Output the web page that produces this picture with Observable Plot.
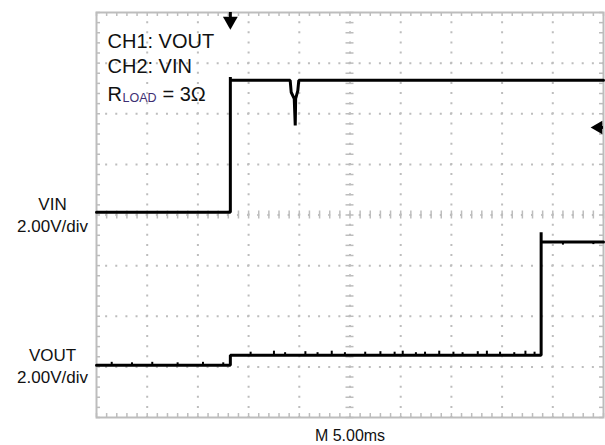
<!DOCTYPE html>
<html><head><meta charset="utf-8">
<script src="https://cdn.jsdelivr.net/npm/d3@7"></script>
<script src="https://cdn.jsdelivr.net/npm/@observablehq/plot@0.6"></script>
<style>body{margin:0;background:#fff;} #chart{width:605px;height:445px;}</style>
</head><body><div id="chart"></div>
<script>
// Channels: name, ground offset (screen divisions), volts per division
const channelNames = ["VIN", "VOUT"];
const channelOffsetDiv = [0, -3];
const channelVoltsPerDiv = [2, 2];
const msPerDiv = 5;
const divisionsX = 10;
const divisionsY = 8;

// VIN (CH2) trace
const vinTime = [0, 13.2, 13.2, 13.2, 19.1, 19.2, 19.5, 19.6, 19.64, 19.85, 19.95, 50];
const vinVolts = [0.11, 0.11, 5.45, 5.32, 5.32, 4.85, 4.6, 3.54, 4.6, 4.9, 5.32, 5.32];

// VOUT (CH1) trace
const voutTime = [0, 13.2, 13.2, 43.85, 43.85, 43.85, 50];
const voutVolts = [0.06, 0.06, 0.46, 0.46, 5.32, 4.93, 4.93];

// small noise spikes on VOUT
const voutNoiseTime = [1.5, 3.5, 5.5, 8, 10.5, 12.5, 15.2, 17.5, 18.6, 20.6, 21.8, 23.2, 24.5, 26.5, 28, 29.4, 30.2, 31.5, 32.4, 33.8, 35.2, 36.1, 37.6, 38.5, 39.8, 41.2, 42.3, 43.2, 46, 49];
const voutNoiseBase = [0.06, 0.06, 0.06, 0.06, 0.06, 0.06, 0.46, 0.46, 0.46, 0.46, 0.46, 0.46, 0.46, 0.46, 0.46, 0.46, 0.46, 0.46, 0.46, 0.46, 0.46, 0.46, 0.46, 0.46, 0.46, 0.46, 0.46, 0.46, 4.93, 4.93];
const voutNoiseVolts = [0.12, 0.1, 0.12, 0.1, 0.12, 0.1, 0.12, 0.16, 0.1, 0.14, 0.1, 0.16, 0.1, 0.12, 0.14, 0.12, 0.16, 0.1, 0.12, 0.16, 0.12, 0.1, 0.14, 0.16, 0.12, 0.1, 0.16, 0.12, -0.12, -0.1];

// markers
const triggerTimeMs = [13.2];
const triggerLevelDiv = [1.73];

// texts
const infoLines = ["CH1: VOUT", "CH2: VIN"];
const loadParts = ["R", "LOAD", "= 3Ω"];
const scaleLabel = "2.00V/div";
const timebaseLabel = "M 5.00ms";

const W = 605, H = 445, mL = 96, mR = 2, mT = 12, mB = 28;
const xMax = msPerDiv * divisionsX;
const pxPerMinorX = (W - mL - mR) / (divisionsX * 5);
const pxPerMinorY = (H - mT - mB) / (divisionsY * 5);
const gridColor = "#bdbdbd";
const font = "Liberation Sans, Arial, sans-serif";

const toDiv = (ch, v) => channelOffsetDiv[ch] + v / channelVoltsPerDiv[ch];
const vin = vinTime.map((t, i) => ({t, y: toDiv(0, vinVolts[i])}));
const vout = voutTime.map((t, i) => ({t, y: toDiv(1, voutVolts[i])}));
const noise = voutNoiseTime.map((t, i) => ({t, y1: toDiv(1, voutNoiseBase[i]), y2: toDiv(1, voutNoiseBase[i] + voutNoiseVolts[i])}));

const majorX = d3.range(1, divisionsX).map(d => d * msPerDiv);
const majorY = d3.range(-divisionsY / 2 + 1, divisionsY / 2);
const minorX = d3.range(0, divisionsX * 5 + 1).map(d => d * msPerDiv / 5);
const minorY = d3.range(0, divisionsY * 5 + 1).map(d => -divisionsY / 2 + d / 5);
const tickLenX = 4 / pxPerMinorX * (msPerDiv / 5);   // 4 px in ms
const tickLenY = 4 / pxPerMinorY / 5;                // 4 px in div
const midX = xMax / 2;
const textStyle = {frameAnchor: "top-left", textAnchor: "start", lineAnchor: "bottom", fill: "#111"};

const chart = Plot.plot({
  width: W, height: H,
  marginLeft: mL, marginRight: mR, marginTop: mT, marginBottom: mB,
  style: {fontFamily: font, background: "#fff"},
  x: {domain: [0, xMax], axis: null},
  y: {domain: [-divisionsY / 2, divisionsY / 2]},
  marks: [
    Plot.gridX(majorX, {stroke: gridColor, strokeOpacity: 1, strokeWidth: 2, strokeDasharray: `2,${pxPerMinorY - 2}`, strokeDashoffset: 1}),
    Plot.gridY(majorY, {stroke: gridColor, strokeOpacity: 1, strokeWidth: 2, strokeDasharray: `2,${pxPerMinorX - 2}`, strokeDashoffset: 1}),
    // center-line ticks
    Plot.ruleX(minorX, {y1: -tickLenY, y2: tickLenY, stroke: gridColor, strokeWidth: 1.5}),
    Plot.ruleY(minorY, {x1: midX - tickLenX, x2: midX + tickLenX, stroke: gridColor, strokeWidth: 1.5}),
    // edge ticks
    Plot.ruleX(minorX, {y1: -divisionsY / 2, y2: -divisionsY / 2 + tickLenY, stroke: gridColor, strokeWidth: 1.5}),
    Plot.ruleX(minorX, {y1: divisionsY / 2, y2: divisionsY / 2 - tickLenY, stroke: gridColor, strokeWidth: 1.5}),
    Plot.ruleY(minorY, {x1: 0, x2: tickLenX, stroke: gridColor, strokeWidth: 1.5}),
    Plot.ruleY(minorY, {x1: xMax, x2: xMax - tickLenX, stroke: gridColor, strokeWidth: 1.5}),
    Plot.frame({stroke: gridColor, strokeWidth: 2}),
    // traces
    Plot.line(vin, {x: "t", y: "y", stroke: "#000", strokeWidth: 3, strokeLinejoin: "miter"}),
    Plot.line(vout, {x: "t", y: "y", stroke: "#000", strokeWidth: 3, strokeLinejoin: "miter"}),
    Plot.ruleX(noise, {x: "t", y1: "y1", y2: "y2", stroke: "#000", strokeWidth: 2}),
    // trigger position marker (top)
    Plot.ruleX(triggerTimeMs, {y1: divisionsY / 2, y2: divisionsY / 2 - 0.14, stroke: "#000", strokeWidth: 3}),
    Plot.dot(triggerTimeMs, {x: d => d, y: divisionsY / 2 - 0.17, symbol: "triangle", r: 5.5, fill: "#000", stroke: null, rotate: 180}),
    // trigger level marker (right)
    Plot.ruleY(triggerLevelDiv, {x1: xMax, x2: xMax - 0.5, stroke: "#000", strokeWidth: 3}),
    Plot.dot(triggerLevelDiv, {y: d => d, x: xMax - 0.5, symbol: "triangle", r: 5, fill: "#000", stroke: null, rotate: -90}),
    // channel labels on the left
    Plot.axisY(channelOffsetDiv, {
      tickSize: 0, tickPadding: 0, label: null, textAnchor: "middle", dx: -44, dy: -1.5,
      fontSize: 17, lineHeight: 1.3, fill: "#111",
      tickFormat: d => `${channelNames[channelOffsetDiv.indexOf(d)]}\n${scaleLabel}`
    }),
    // info text
    Plot.text([infoLines[0]], {...textStyle, text: d => d, dx: 11, dy: 35, fontSize: 20}),
    Plot.text([infoLines[1]], {...textStyle, text: d => d, dx: 11, dy: 60, fontSize: 20}),
    Plot.text([loadParts[0]], {...textStyle, text: d => d, dx: 11, dy: 88, fontSize: 20}),
    Plot.text([loadParts[1]], {...textStyle, text: d => d, dx: 26, dy: 89, fontSize: 12.5, fill: "#3d2f73"}),
    Plot.text([loadParts[2]], {...textStyle, text: d => d, dx: 66, dy: 88, fontSize: 20}),
    // timebase
    Plot.text([timebaseLabel], {text: d => d, frameAnchor: "bottom", lineAnchor: "bottom", dy: 23, fontSize: 16, fill: "#111"})
  ]
});
document.getElementById("chart").appendChild(chart);
</script></body></html>
